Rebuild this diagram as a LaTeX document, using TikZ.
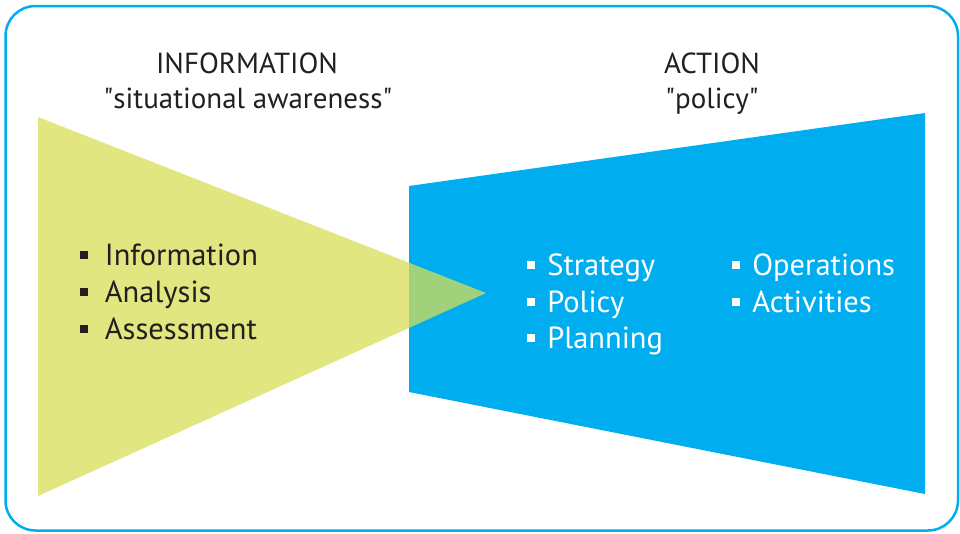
\documentclass[tikz,border=0pt]{standalone}
\usepackage{fontspec}
\setmainfont{PT Sans}
\definecolor{actblue}{RGB}{0,174,239}
\definecolor{infogreen}{RGB}{215,222,85}
\definecolor{inktext}{RGB}{35,31,32}
\newcommand{\sqbul}[1][0.55em]{\rule[0.2em]{0.26em}{0.26em}\hspace{#1}}

\begin{document}
\begin{tikzpicture}[x=1pt,y=-1pt,
  head/.style={anchor=base,inner sep=0pt,text=inktext,font=\fontsize{29}{35}\selectfont},
  item/.style={anchor=base west,inner sep=0pt,font=\fontsize{30.5}{37}\selectfont}]
\useasboundingbox (0,0) rectangle (960,533);
%% frame
\draw[actblue, line width=2.5pt, rounded corners=30pt] (5.5,6) rectangle (958,530.5);
%% action block
\fill[actblue] (409,186) -- (925,113) -- (925,494) -- (409,392) -- cycle;
%% information wedge
\fill[infogreen, opacity=0.75] (38,117) -- (486,293) -- (38,496) -- cycle;

%% headings
\node[head] (infohead) at (247,73) {INFORMATION};
\node[head] (infosub) at (248,108) {\textquotedbl situational awareness\textquotedbl};
\node[head] (acthead) at (712,73) {ACTION};
\node[head] (actsub) at (712,108) {\textquotedbl policy\textquotedbl};

%% information list
\node[item, text=inktext] (information) at (80,265) {\sqbul Information};
\node[item, text=inktext] (analysis) at (80,302) {\sqbul Analysis};
\node[item, text=inktext] (assessment) at (80,339) {\sqbul Assessment};

%% action lists
\node[item, text=white] (strategy) at (527,275) {\sqbul[0.4em]Strategy};
\node[item, text=white] (policy) at (527,312) {\sqbul[0.4em]Policy};
\node[item, text=white] (planning) at (527,348) {\sqbul[0.4em]Planning};
\node[item, text=white] (operations) at (732,275) {\sqbul[0.4em]Operations};
\node[item, text=white] (activities) at (732,312) {\sqbul[0.4em]Activities};

\end{tikzpicture}
\end{document}
